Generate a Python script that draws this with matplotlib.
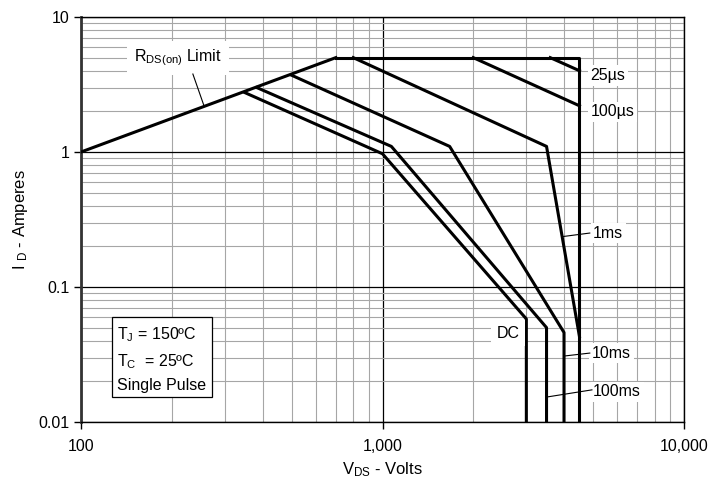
import numpy as np
import matplotlib.pyplot as plt
from matplotlib.patches import Rectangle
from matplotlib.ticker import LogLocator

plt.rcParams['font.family'] = ['Liberation Sans', 'DejaVu Sans']
plt.rcParams['mathtext.fontset'] = 'custom'
plt.rcParams['mathtext.rm'] = 'Liberation Sans'
plt.rcParams['mathtext.it'] = 'Liberation Sans:italic'

# safe operating area, V_DS (V) vs I_D (A)
rds_v = [100, 700]
rds_i = [1, 5]
bound_v = [700, 4500, 4500]
bound_i = [5, 5, 0.01]
us25_v = [3600, 4500]
us25_i = [5, 4.0]
us100_v = [2000, 4500]
us100_i = [5, 2.2]
ms1_v = [800, 3500, 4500]
ms1_i = [5, 1.1, 0.043]
ms10_v = [500, 1670, 4000, 4000]
ms10_i = [3.7, 1.1, 0.046, 0.01]
ms100_v = [383, 1070, 3500, 3500]
ms100_i = [3.0, 1.1, 0.05, 0.01]
dc_v = [350, 1000, 3000, 3000]
dc_i = [2.75, 0.97, 0.058, 0.01]

x_ticks = [100, 1000, 10000]
x_labels = ['100', '1,000', '10,000']
y_ticks = [0.01, 0.1, 1, 10]
y_labels = ['0.01', '0.1', '1', '10']

fs = 11.5

fig = plt.figure(figsize=(7.11, 4.82), dpi=100)
ax = fig.add_axes([81/711, 1 - 422/482, 603/711, 405/482])

ax.set_xscale('log')
ax.set_yscale('log')
ax.set_xlim(100, 10000)
ax.set_ylim(0.01, 10)

curves = [(rds_v, rds_i), (bound_v, bound_i), (us25_v, us25_i), (us100_v, us100_i),
          (ms1_v, ms1_i), (ms10_v, ms10_i), (ms100_v, ms100_i), (dc_v, dc_i)]
for v, i in curves:
    ax.plot(v, i, color='black', lw=2.2, zorder=3)

ax.set_xticks(x_ticks)
ax.set_xticklabels(x_labels)
ax.set_yticks(y_ticks)
ax.set_yticklabels(y_labels)
ax.xaxis.set_minor_locator(LogLocator(base=10, subs=np.arange(2, 10)))
ax.yaxis.set_minor_locator(LogLocator(base=10, subs=np.arange(2, 10)))
ax.tick_params(which='minor', length=0)
ax.tick_params(which='major', length=5, width=1, direction='out', labelsize=fs)
ax.tick_params(axis='x', pad=7)
ax.tick_params(axis='y', pad=3)
ax.grid(which='major', color='black', lw=0.9)
ax.grid(which='minor', color='#a6a6a6', lw=0.8)
ax.set_axisbelow(True)

for s in ['top', 'right', 'bottom']:
    ax.spines[s].set_linewidth(1)
ax.spines['left'].set_linewidth(2)
ax.spines['left'].set_color('#333333')

ax.set_xlabel(r'$\mathregular{V_{DS}}$ - Volts', fontsize=12, labelpad=5)
ax.set_ylabel(r'I $\mathregular{_D}$ - Amperes', fontsize=12, labelpad=6)

# curve labels
wbox = dict(fc='white', ec='none', pad=2)
ax.text(210, 4.97, r'R$\mathregular{_{DS(on)}}$ Limit', fontsize=fs, ha='center', va='center',
        bbox=dict(fc='white', ec='none', pad=5), zorder=4)
ax.plot([235, 256], [3.78, 2.19], color='black', lw=0.8, zorder=4)

ax.text(4900, 3.7, '25µs', fontsize=fs, ha='left', va='center', bbox=wbox, zorder=4)
ax.text(4900, 1.98, '100µs', fontsize=fs, ha='left', va='center', bbox=wbox, zorder=4)
ax.text(5000, 0.251, '1ms', fontsize=fs, ha='left', va='center', bbox=wbox, zorder=4)
ax.plot([3943, 4870], [0.236, 0.251], color='black', lw=0.8, zorder=4)
ax.text(4950, 0.0324, '10ms', fontsize=fs, ha='left', va='center', bbox=wbox, zorder=4)
ax.plot([4000, 4870], [0.0308, 0.0324], color='black', lw=0.8, zorder=4)
ax.text(5000, 0.0167, '100ms', fontsize=fs, ha='left', va='center', bbox=wbox, zorder=4)
ax.plot([3500, 4950], [0.0153, 0.0173], color='black', lw=0.8, zorder=4)
ax.text(2608, 0.0456, 'DC', fontsize=fs, ha='center', va='center',
        bbox=dict(fc='white', ec='none', pad=4), zorder=4)

# conditions box
ax.add_patch(Rectangle((0.0514, 0.0617), 0.1658, 0.1973, transform=ax.transAxes,
                       fc='white', ec='black', lw=0.9, zorder=4))
ax.text(0.0597, 0.215, r'T$\mathregular{_J}$ = 150ºC', transform=ax.transAxes,
        fontsize=fs, va='center', zorder=5)
ax.text(0.0597, 0.148, r'T$\mathregular{_C}$  = 25ºC', transform=ax.transAxes,
        fontsize=fs, va='center', zorder=5)
ax.text(0.0597, 0.089, 'Single Pulse', transform=ax.transAxes,
        fontsize=fs, va='center', zorder=5)

fig.savefig('out.png', dpi=100)
